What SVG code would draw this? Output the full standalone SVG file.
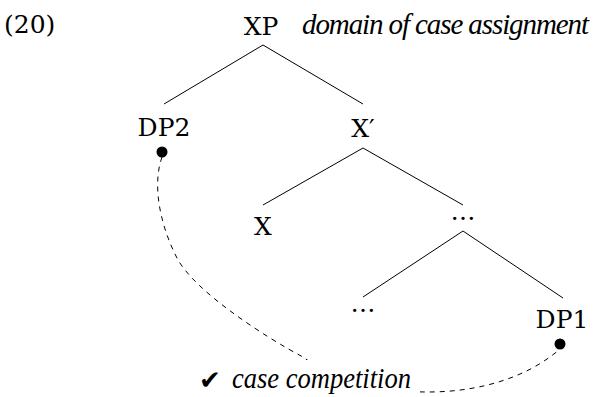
<svg xmlns="http://www.w3.org/2000/svg" width="600" height="397" viewBox="0 0 600 397">
<style>
.t{font-family:"DejaVu Serif","Liberation Serif",serif;font-size:25px;fill:#000}
.i{font-family:"Liberation Serif","DejaVu Serif",serif;font-style:italic;font-size:29px;fill:#000}
.e{stroke:#000;stroke-width:1;fill:none}
.d{stroke:#000;stroke-width:1;fill:none;stroke-dasharray:5,5}
</style>
<rect width="600" height="397" fill="#fff"/>
<text class="t" x="4" y="33">(20)</text>
<g id="connectors">
<line class="e" x1="263" y1="45" x2="164" y2="104"/>
<line class="e" x1="263" y1="45" x2="363" y2="104"/>
<line class="e" x1="363" y1="148" x2="263" y2="205"/>
<line class="e" x1="363" y1="148" x2="463" y2="205"/>
<line class="e" x1="463" y1="231" x2="363" y2="297"/>
<line class="e" x1="463" y1="231" x2="563" y2="298"/>
<path class="d" d="M162,157 C152,185 160,225 177,258 C194,291 265,337 303,357 C360,400 490,410 560,349"/>
</g>
<g id="XP"><text class="t" x="261" y="35" text-anchor="middle">XP</text>
<text class="i" x="302" y="34" font-size="26" textLength="287" lengthAdjust="spacing">domain of case assignment</text></g>
<g id="DP2"><text class="t" x="164" y="136" text-anchor="middle">DP2</text><circle cx="162" cy="152" r="5.5"/></g>
<g id="Xbar"><text class="t" x="363" y="137" text-anchor="middle">X′</text></g>
<g id="X"><text class="t" x="263" y="235" text-anchor="middle">X</text></g>
<g id="dots1"><text class="t" x="463" y="220" text-anchor="middle">…</text></g>
<g id="dots2"><text class="t" x="363" y="312" text-anchor="middle">…</text></g>
<g id="DP1"><text class="t" x="562" y="328" text-anchor="middle">DP1</text><circle cx="560" cy="344" r="5.5"/></g>
<g id="label">
<rect x="196" y="360" width="224" height="37" fill="#fff"/>
<text x="199" y="389" font-family="DejaVu Sans" font-size="26">✔</text>
<text class="i" x="232" y="388" textLength="179" lengthAdjust="spacingAndGlyphs">case competition</text>
</g>
</svg>
